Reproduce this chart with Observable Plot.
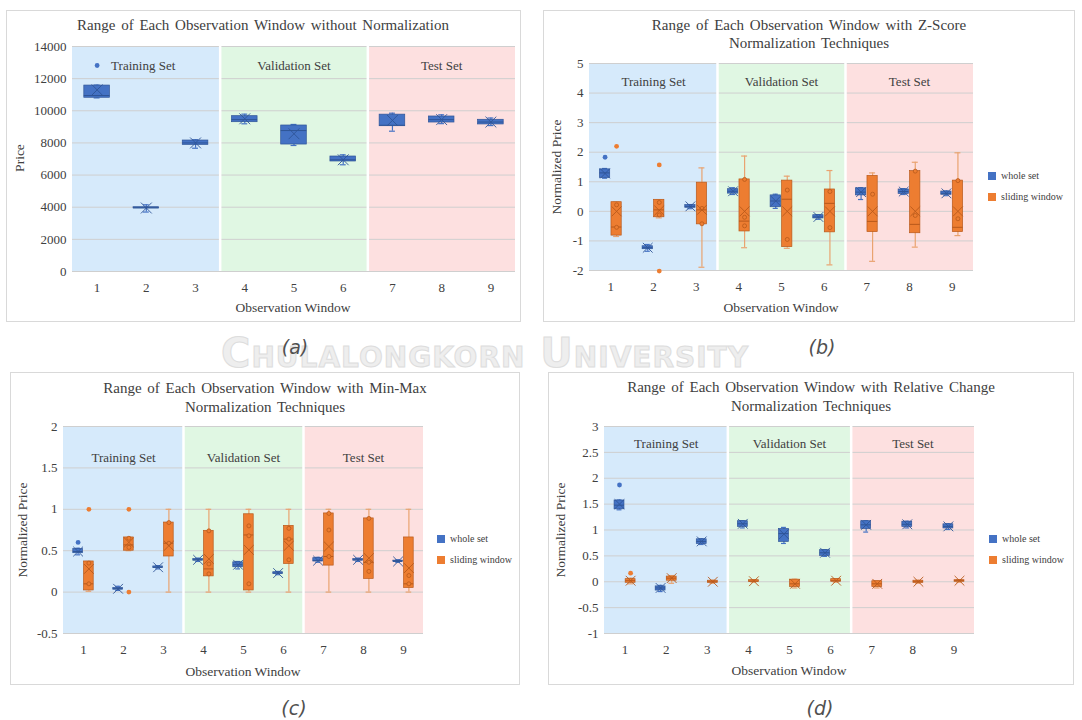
<!DOCTYPE html>
<html><head><meta charset="utf-8">
<script src="https://cdn.jsdelivr.net/npm/d3@7"></script>
<script src="https://cdn.jsdelivr.net/npm/@observablehq/plot@0.6"></script>
<style>
body{margin:0;background:#fff;width:1082px;height:720px;position:relative;overflow:hidden;font-family:"Liberation Serif",serif;}
.panel{position:absolute;border:1px solid #d9d9d9;background:#fff;box-sizing:border-box;}
.t{position:absolute;white-space:nowrap;color:#404040;transform:translate(-50%,-50%);line-height:1;font-family:"Liberation Serif",serif;}
.title{font-size:15px;word-spacing:2px;}
.axl{font-size:13.5px;}
.rot{transform:translate(-50%,-50%) rotate(-90deg);}
.cap{font-family:"DejaVu Sans",sans-serif;font-style:italic;font-size:19px;color:#505050;}
.leg{position:absolute;font-size:10px;color:#404040;white-space:nowrap;line-height:1;font-family:"Liberation Serif",serif;}
.sw{display:inline-block;width:8px;height:8px;margin-right:5px;vertical-align:-1px;}
.wm{position:absolute;white-space:nowrap;font-family:"DejaVu Sans",sans-serif;font-weight:bold;font-variant:small-caps;font-size:40px;color:#eeeeee;-webkit-text-stroke:1px #dddddd;letter-spacing:1px;transform:translate(-50%,-50%);}
svg.p{position:absolute;}
svg.p text{font-family:"Liberation Serif",serif !important;}
</style></head><body>
<script>
// ---------- data ----------
const windows = [1, 2, 3, 4, 5, 6, 7, 8, 9];
const setNames = ["Training Set", "Validation Set", "Test Set"];
const setFirst = [1, 4, 7];
const setLast = [3, 6, 9];

// (a) without normalization
const aMin  = [10800, 3700, 7670, 9190, 7840, 6640, 8730, 9200, 9080];
const aQ1   = [10810, 3930, 7880, 9290, 7900, 6845, 9040, 9270, 9150];
const aMed  = [10950, 3960, 8000, 9450, 8770, 6950, 9100, 9450, 9300];
const aQ3   = [11570, 4000, 8150, 9665, 9085, 7155, 9760, 9645, 9440];
const aMax  = [11600, 4150, 8200, 9790, 9150, 7260, 9850, 9750, 9550];
const aMean = [11300, 3950, 8000, 9500, 8570, 6950, 9400, 9450, 9300];

// (b) Z-score : whole set
const bWMin  = [1.12, -1.35, 0.09, 0.57, 0.10, -0.27, 0.40, 0.57, 0.53];
const bWQ1   = [1.13, -1.28, 0.12, 0.60, 0.14, -0.24, 0.54, 0.59, 0.56];
const bWMed  = [1.30, -1.23, 0.17, 0.68, 0.35, -0.19, 0.65, 0.67, 0.61];
const bWQ3   = [1.42, -1.18, 0.21, 0.75, 0.54, -0.13, 0.78, 0.74, 0.67];
const bWMax  = [1.45, -1.12, 0.23, 0.80, 0.58, -0.11, 0.80, 0.77, 0.69];
const bWMean = [1.28, -1.23, 0.17, 0.68, 0.35, -0.19, 0.65, 0.67, 0.61];
const bWOut  = [[1, 1.83]];
// (b) Z-score : sliding window
const bSMin  = [-0.85, -0.22, -1.89, -1.23, -1.25, -1.81, -1.69, -1.21, -0.82];
const bSQ1   = [-0.82, -0.20, -0.44, -0.68, -1.21, -0.71, -0.70, -0.74, -0.70];
const bSMed  = [-0.53, 0.05, 0.05, -0.33, 0.41, 0.27, -0.34, -0.44, -0.54];
const bSQ3   = [0.31, 0.39, 0.97, 1.08, 1.04, 0.74, 1.20, 1.36, 1.04];
const bSMax  = [0.31, 0.39, 1.47, 1.87, 1.19, 1.38, 1.30, 1.66, 1.98];
const bSMean = [0.00, 0.03, 0.05, 0.00, 0.00, 0.00, 0.00, 0.00, 0.00];
const bSOut  = [[1, 2.20], [2, 1.57], [2, -2.02]];
const bSIn   = [[1, 0.22], [1, -0.54], [2, 0.30], [2, -0.12], [3, 0.10], [3, -0.42], [4, -0.20], [4, -0.49], [4, 1.08],
                [5, 0.72], [5, -0.95], [6, 0.67], [6, -0.55], [7, 0.58], [8, -0.14], [8, 1.36], [9, -0.25], [9, 1.04]];

// (c) Min-Max : whole set
const cWMin  = [0.45, 0.02, 0.28, 0.37, 0.28, 0.21, 0.36, 0.37, 0.36];
const cWQ1   = [0.47, 0.03, 0.29, 0.38, 0.30, 0.22, 0.37, 0.38, 0.37];
const cWMed  = [0.49, 0.04, 0.30, 0.39, 0.33, 0.23, 0.38, 0.39, 0.37];
const cWQ3   = [0.52, 0.05, 0.31, 0.40, 0.36, 0.24, 0.41, 0.40, 0.38];
const cWMax  = [0.53, 0.07, 0.32, 0.41, 0.37, 0.25, 0.42, 0.41, 0.39];
const cWMean = [0.49, 0.04, 0.30, 0.39, 0.33, 0.23, 0.38, 0.39, 0.37];
const cWOut  = [[1, 0.60]];
// (c) Min-Max : sliding window
const cSMin  = [0.01, 0.50, 0.00, 0.00, 0.00, 0.00, 0.00, 0.00, 0.00];
const cSQ1   = [0.02, 0.50, 0.43, 0.19, 0.02, 0.34, 0.32, 0.16, 0.05];
const cSMed  = [0.10, 0.57, 0.59, 0.28, 0.69, 0.64, 0.43, 0.36, 0.10];
const cSQ3   = [0.37, 0.66, 0.84, 0.74, 0.94, 0.80, 0.95, 0.89, 0.66];
const cSMax  = [0.37, 0.66, 1.00, 1.00, 1.00, 1.00, 1.00, 1.00, 1.00];
const cSMean = [0.28, 0.60, 0.56, 0.40, 0.51, 0.56, 0.55, 0.41, 0.29];
const cSOut  = [[1, 1.00], [2, 1.00], [2, 0.00]];
const cSIn   = [[1, 0.35], [1, 0.10], [2, 0.65], [2, 0.54], [3, 0.59], [3, 0.84], [4, 0.34], [4, 0.22], [4, 0.74],
                [5, 0.80], [5, 0.68], [5, 0.10], [6, 0.77], [6, 0.64], [6, 0.39], [7, 0.75], [7, 0.43], [7, 0.95],
                [8, 0.36], [8, 0.25], [8, 0.89], [9, 0.20], [9, 0.10]];

// (d) Relative change : whole set
const dWMin  = [1.39, -0.19, 0.72, 1.04, 0.74, 0.49, 0.96, 1.04, 1.01];
const dWQ1   = [1.40, -0.17, 0.73, 1.06, 0.77, 0.50, 1.02, 1.06, 1.03];
const dWMed  = [1.48, -0.12, 0.78, 1.12, 0.93, 0.56, 1.10, 1.11, 1.07];
const dWQ3   = [1.57, -0.09, 0.82, 1.17, 1.02, 0.61, 1.17, 1.16, 1.11];
const dWMax  = [1.58, -0.07, 0.83, 1.18, 1.05, 0.62, 1.18, 1.17, 1.12];
const dWMean = [1.50, -0.12, 0.78, 1.12, 0.92, 0.56, 1.10, 1.11, 1.07];
const dWOut  = [[1, 1.87]];
// (d) Relative change : sliding window
const dSMin  = [-0.04, -0.03, -0.03, -0.01, -0.12, -0.01, -0.12, -0.03, -0.01];
const dSQ1   = [-0.02, 0.02, -0.02, 0.00, -0.10, 0.00, -0.10, -0.02, 0.00];
const dSMed  = [0.02, 0.07, 0.00, 0.01, -0.04, 0.02, -0.04, 0.00, 0.02];
const dSQ3   = [0.05, 0.10, 0.02, 0.03, 0.04, 0.05, 0.01, 0.02, 0.03];
const dSMax  = [0.07, 0.12, 0.03, 0.04, 0.05, 0.06, 0.02, 0.03, 0.04];
const dSMean = [0.02, 0.07, 0.00, 0.01, -0.04, 0.02, -0.04, 0.00, 0.02];
const dSOut  = [[1, 0.165]];

const aTicks = [0, 2000, 4000, 6000, 8000, 10000, 12000, 14000];
const bTicks = [-2, -1, 0, 1, 2, 3, 4, 5];
const cTicks = [-0.5, 0, 0.5, 1, 1.5, 2];
const dTicks = [-1, -0.5, 0, 0.5, 1, 1.5, 2, 2.5, 3];

// ---------- styles ----------
const BLUE = "#4472c4", BLUE_D = "#2f5597";
const ORANGE = "#ed7d31", ORANGE_D = "#b8591b", ORANGE_W = "#e9a370";
const REGION_FILL = ["#d6eafb", "#e0f7e3", "#fde0e0"];

function rowsOf(min, q1, med, q3, max, mean) {
  return windows.map((w, i) => ({w, min: min[i], q1: q1[i], med: med[i], q3: q3[i], max: max[i], mean: mean[i]}));
}

function boxMarks(rows, inner, out, s) {
  const cx = d => d.w + s.off;
  return [
    Plot.ruleX(rows, {x: cx, y1: "min", y2: "max", stroke: s.whisk, strokeWidth: 1.2}),
    Plot.ruleY(rows, {y: "min", x1: d => cx(d) - s.cap, x2: d => cx(d) + s.cap, stroke: s.whisk, strokeWidth: 1.2}),
    Plot.ruleY(rows, {y: "max", x1: d => cx(d) - s.cap, x2: d => cx(d) + s.cap, stroke: s.whisk, strokeWidth: 1.2}),
    Plot.rect(rows, {x1: d => cx(d) - s.half, x2: d => cx(d) + s.half, y1: "q1", y2: "q3", fill: s.fill, stroke: s.dark, strokeWidth: 0.7}),
    Plot.ruleY(rows, {y: "med", x1: d => cx(d) - s.half, x2: d => cx(d) + s.half, stroke: s.dark, strokeWidth: 1}),
    Plot.dot(inner, {x: d => d[0] + s.off, y: d => d[1], r: 2, fill: s.fill, stroke: s.dark, strokeWidth: 0.8}),
    Plot.dot(rows, {x: cx, y: "mean", symbol: "times", r: s.xr, stroke: s.dark, strokeWidth: 0.9}),
    Plot.dot(out, {x: d => d[0] + s.off, y: d => d[1], r: 2.4, fill: s.fill})
  ];
}

function el(tag, cls, css, text) {
  const e = document.createElement(tag);
  if (cls) e.className = cls;
  Object.assign(e.style, css);
  if (text != null) e.textContent = text;
  document.body.appendChild(e);
  return e;
}

function drawPanel(c) {
  el("div", "panel", {left: c.left + "px", top: c.top + "px", width: c.width + "px", height: c.height + "px"});
  const sets = setNames.map((name, i) => ({name, x1: setFirst[i] - 0.5, x2: setLast[i] + 0.5, xc: (setFirst[i] + setLast[i]) / 2}));
  const marks = [
    Plot.rect(sets, {x1: "x1", x2: "x2", y1: () => c.domain[0], y2: () => c.domain[1], fill: "name"}),
    Plot.ruleY(c.ticks, {stroke: "#cfcfcf", strokeWidth: 1}),
    Plot.ruleX(sets.slice(1), {x: "x1", stroke: "#ffffff", strokeWidth: 2.5}),
    ...c.labelMarks(sets)
  ];
  for (const s of c.series) marks.push(...boxMarks(s.rows, s.inner, s.out, s.style));
  const svg = Plot.plot({
    width: c.width, height: c.height,
    marginLeft: c.ml, marginRight: c.mr, marginTop: c.mt, marginBottom: c.mb,
    style: {background: "transparent", fontSize: "13px", color: "#404040", overflow: "visible"},
    x: {type: "linear", domain: [0.5, 9.5], ticks: windows, tickFormat: d => String(d), tickSize: 0, tickPadding: 11, label: null},
    y: {type: "linear", domain: c.domain, ticks: c.ticks, tickFormat: d => String(d), tickSize: 0, tickPadding: 6, label: null},
    color: {type: "ordinal", domain: setNames, range: REGION_FILL},
    marks
  });
  svg.classList.add("p");
  svg.style.left = c.left + "px";
  svg.style.top = c.top + "px";
  svg.style.fontSize = "13px";
  document.body.appendChild(svg);
  c.titles.forEach(([txt, x, y]) => el("div", "t title", {left: x + "px", top: y + "px"}, txt));
  el("div", "t axl rot", {left: c.ylab[1] + "px", top: c.ylab[2] + "px"}, c.ylab[0]);
  el("div", "t axl", {left: c.xlab[0] + "px", top: c.xlab[1] + "px"}, "Observation Window");
  if (c.legend) {
    const names = ["whole set", "sliding window"], cols = [BLUE, ORANGE];
    names.forEach((n, i) => {
      const d = el("div", "leg", {left: c.legend[0] + "px", top: (c.legend[1] + i * 20.5) + "px"});
      const sw = document.createElement("span"); sw.className = "sw"; sw.style.background = cols[i];
      d.appendChild(sw); d.appendChild(document.createTextNode(n));
    });
  }
}

// watermark (behind panels)
el("div", "wm", {left: "485px", top: "353px"}, "Chulalongkorn University");

const TXT = {fontSize: 13, fill: "#404040", lineAnchor: "middle"};
const labelTxt = (dy) => (sets) => [Plot.text(sets, {x: "xc", text: "name", frameAnchor: "top", dy, ...TXT})];

const wholeStyle = {off: -0.135, half: 0.12, cap: 0.06, xr: 4.5, fill: BLUE, dark: BLUE_D, whisk: BLUE};
const slideStyle = {off: 0.135, half: 0.12, cap: 0.07, xr: 4.5, fill: ORANGE, dark: ORANGE_D, whisk: ORANGE_W};

drawPanel({
  left: 6, top: 10, width: 515, height: 312, ml: 66, mr: 6, mt: 36, mb: 51,
  domain: [0, 14000], ticks: aTicks,
  labelMarks: (sets) => [
    Plot.dot(sets.slice(0, 1), {x: () => windows[0], frameAnchor: "top", dy: 19, r: 2.4, fill: BLUE}),
    Plot.text(sets.slice(0, 1), {x: () => windows[0], text: "name", frameAnchor: "top", dy: 19, dx: 14, textAnchor: "start", ...TXT}),
    Plot.text(sets.slice(1), {x: "xc", text: "name", frameAnchor: "top", dy: 19, ...TXT})
  ],
  series: [{rows: rowsOf(aMin, aQ1, aMed, aQ3, aMax, aMean), inner: [], out: [],
            style: {off: 0, half: 0.26, cap: 0.06, xr: 5, fill: BLUE, dark: BLUE_D, whisk: BLUE}}],
  titles: [["Range of Each Observation Window without Normalization", 263, 25]],
  ylab: ["Price", 20, 158], xlab: [293, 308]
});

drawPanel({
  left: 543, top: 10, width: 532, height: 312, ml: 46, mr: 102, mt: 53, mb: 52,
  domain: [-2, 5], ticks: bTicks, labelMarks: labelTxt(18.5),
  series: [
    {rows: rowsOf(bWMin, bWQ1, bWMed, bWQ3, bWMax, bWMean), inner: [], out: bWOut, style: wholeStyle},
    {rows: rowsOf(bSMin, bSQ1, bSMed, bSQ3, bSMax, bSMean), inner: bSIn, out: bSOut, style: slideStyle}
  ],
  titles: [["Range of Each Observation Window with Z-Score", 809, 25], ["Normalization Techniques", 809, 43]],
  ylab: ["Normalized Price", 557, 167], xlab: [781, 308], legend: [988, 171]
});

drawPanel({
  left: 10, top: 372, width: 510, height: 313, ml: 53, mr: 97, mt: 54, mb: 52,
  domain: [-0.5, 2], ticks: cTicks, labelMarks: labelTxt(31.5),
  series: [
    {rows: rowsOf(cWMin, cWQ1, cWMed, cWQ3, cWMax, cWMean), inner: [], out: cWOut, style: wholeStyle},
    {rows: rowsOf(cSMin, cSQ1, cSMed, cSQ3, cSMax, cSMean), inner: cSIn, out: cSOut, style: slideStyle}
  ],
  titles: [["Range of Each Observation Window with Min-Max", 265, 388], ["Normalization Techniques", 265, 407]],
  ylab: ["Normalized Price", 23, 530], xlab: [243, 672], legend: [437, 534]
});

drawPanel({
  left: 548, top: 372, width: 526, height: 313, ml: 56, mr: 100, mt: 54, mb: 52,
  domain: [-1, 3], ticks: dTicks, labelMarks: labelTxt(17),
  series: [
    {rows: rowsOf(dWMin, dWQ1, dWMed, dWQ3, dWMax, dWMean), inner: [], out: dWOut, style: wholeStyle},
    {rows: rowsOf(dSMin, dSQ1, dSMed, dSQ3, dSMax, dSMean), inner: [], out: dSOut, style: slideStyle}
  ],
  titles: [["Range of Each Observation Window with Relative Change", 811, 387], ["Normalization Techniques", 811, 406]],
  ylab: ["Normalized Price", 561, 530], xlab: [789, 671], legend: [989, 534]
});

el("div", "t cap", {left: "295px", top: "347px"}, "(a)");
el("div", "t cap", {left: "822px", top: "347px"}, "(b)");
el("div", "t cap", {left: "294px", top: "708px"}, "(c)");
el("div", "t cap", {left: "820px", top: "708px"}, "(d)");
</script>
</body></html>
